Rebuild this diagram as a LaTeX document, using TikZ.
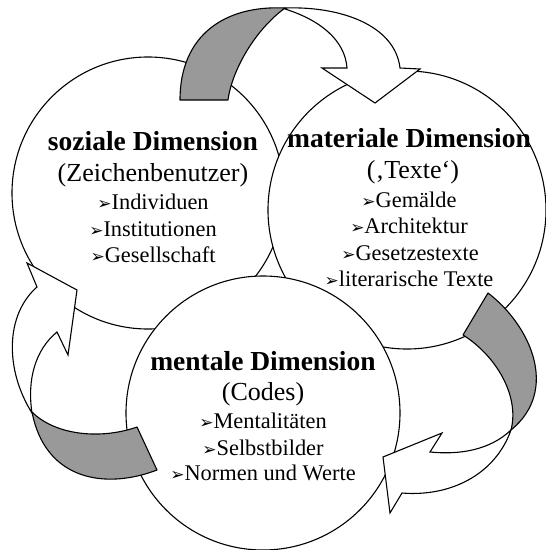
\documentclass[tikz,border=0pt]{standalone}
\usepackage{fontspec}
\setmainfont{Liberation Serif}
\newfontfamily\symbolfont{DejaVu Sans}
\usepackage{xcolor}
\definecolor{stippelgrau}{gray}{0.6}
\newcommand{\spitze}{{\symbolfont\fontsize{17}{17}\selectfont ➢}}
\tikzset{
    kreis/.style={circle, draw, fill=white, line width=1.1pt, inner sep=0pt, minimum size=#1},
    band/.style={draw, fill=stippelgrau, line width=1.1pt, line join=round},
    pfeilweiss/.style={draw, fill=white, line width=1.1pt, line join=miter},
    titel/.style={anchor=base, inner sep=0pt, font=\fontsize{27.5}{30}\selectfont\bfseries},
    unter/.style={anchor=base, inner sep=0pt, font=\fontsize{26}{28}\selectfont},
    punkt/.style={anchor=base, inner sep=0pt, font=\fontsize{22.4}{24}\selectfont}}

\begin{document}
\begin{tikzpicture}[x=1pt, y=-1pt]
    \useasboundingbox (0,0) rectangle (546,550);

    % Drei Dimensionen
    \node[kreis=272pt] (soz) at (148,193) {};
    \node[kreis=278pt] (mat) at (407,210) {};
    \node[kreis=274pt] (men) at (263,413) {};

    % soziale Dimension
    \node[titel] (sozT) at (153,150) {soziale Dimension};
    \node[unter] (sozU) at (153,181) {(Zeichenbenutzer)};
    \node[punkt] (soz1) at (153,209) {\spitze Individuen};
    \node[punkt] (soz2) at (153,236) {\spitze Institutionen};
    \node[punkt] (soz3) at (153,262) {\spitze Gesellschaft};

    % materiale Dimension
    \node[titel] (matT) at (409,147) {materiale Dimension};
    \node[unter] (matU) at (413,178) {(‚Texte‘)};
    \node[punkt] (mat1) at (409,207) {\spitze Gemälde};
    \node[punkt] (mat2) at (409,233) {\spitze Architektur};
    \node[punkt] (mat3) at (410,260) {\spitze Gesetzestexte};
    \node[punkt] (mat4) at (409,286) {\spitze literarische Texte};

    % mentale Dimension
    \node[titel] (menT) at (263,370) {mentale Dimension};
    \node[unter] (menU) at (263,400) {(Codes)};
    \node[punkt] (men1) at (263,428) {\spitze Mentalitäten};
    \node[punkt] (men2) at (263,455) {\spitze Selbstbilder};
    \node[punkt] (men3) at (263,480) {\spitze Normen und Werte};

    % Pfeil oben: sozial -> material
    \draw[band] (180,100) .. controls (180,35) and (225,5) .. (285,8)
        .. controls (255,30) and (232,70) .. (228,100) -- cycle;
    \draw[pfeilweiss] (285,8) .. controls (340,6) and (395,25) .. (400,68)
        -- (420,69) -- (375,103) -- (322,68) -- (347,68)
        .. controls (345,40) and (320,20) .. (285,9) -- cycle;

    % Pfeil rechts: material -> mental
    \draw[band] (488,293) .. controls (530,325) and (560,390) .. (511,430)
        .. controls (520,395) and (495,355) .. (463,335) -- cycle;
    \draw[pfeilweiss] (511,430) .. controls (495,475) and (450,497) .. (402,493)
        -- (390,513) -- (383,457) -- (442,433) -- (430,452)
        .. controls (460,455) and (490,450) .. (511,430) -- cycle;

    % Pfeil links: mental -> sozial
    \draw[band] (157,470) .. controls (105,490) and (45,480) .. (32,412)
        .. controls (55,435) and (100,440) .. (137,427) -- cycle;
    \draw[pfeilweiss] (32,413) .. controls (5,370) and (5,315) .. (37,287)
        -- (27,263) -- (77,290) -- (68,355) -- (57,332)
        .. controls (35,350) and (27,380) .. (32,413) -- cycle;
\end{tikzpicture}
\end{document}
